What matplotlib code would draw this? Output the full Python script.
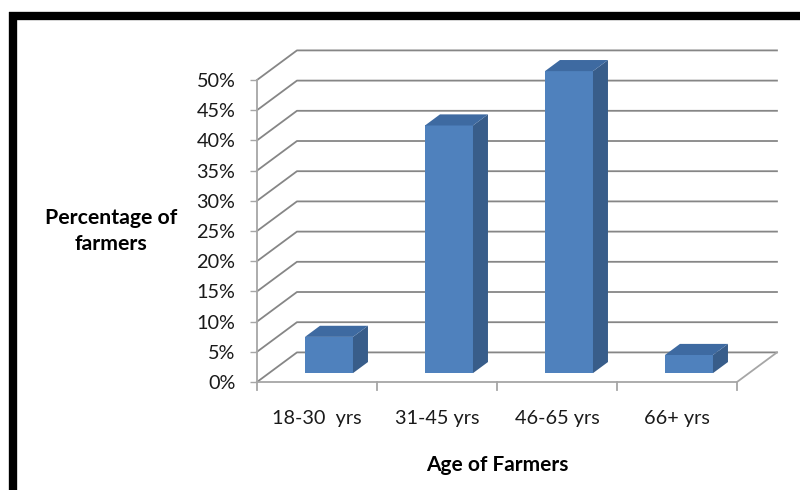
import matplotlib.pyplot as plt
from matplotlib.lines import Line2D

categories = ["18-30  yrs", "31-45 yrs", "46-65 yrs", "66+ yrs"]
values = [6, 41, 50, 3]
y_ticks = [0, 5, 10, 15, 20, 25, 30, 35, 40, 45, 50]
y_labels = [f"{v}%" for v in y_ticks]

# oblique depth of the plot box (category units, percent units)
DX = 0.333
DY = 4.9
GRID = "#868686"
AXIS = "#a6a6a6"
FRONT = "#4f81bd"
SIDE = "#385d8a"
TOP = "#3e6aa1"

plt.rcParams["font.family"] = ["Lato", "DejaVu Sans"]

fig = plt.figure(figsize=(8, 4.9), dpi=100)
ax = fig.add_axes([257 / 800, 108 / 490, 480 / 800, 302 / 490])
n = len(categories)
ax.set_xlim(0, n)
ax.set_ylim(0, 50)
for s in ax.spines.values():
    s.set_visible(False)

# back wall gridlines + side wall diagonals
for v in y_ticks:
    ax.plot([0, DX, n + DX], [v, v + DY, v + DY], color=GRID, lw=1.3, clip_on=False, zorder=1)

# floor and front axis
ax.plot([0, n, n + DX], [0, 0, DY], color=AXIS, lw=1.3, clip_on=False, zorder=1)
ax.plot([0, 0], [0, 50], color=AXIS, lw=1.3, clip_on=False, zorder=1)
for i in range(n + 1):
    ax.plot([i, i], [0, -1.4], color=AXIS, lw=1.3, clip_on=False, zorder=1)

# 3d bars
w = 0.4
f0 = 0.3
depth = 0.375
for i, v in enumerate(values):
    x0 = i + 0.5 - w / 2 + f0 * DX
    x1 = x0 + w
    y0 = f0 * DY
    y1 = y0 + v
    ddx = depth * DX
    ddy = depth * DY
    ax.fill([x0, x1, x1, x0], [y0, y0, y1, y1], color=FRONT, lw=0, clip_on=False, zorder=3)
    ax.fill([x1, x1 + ddx, x1 + ddx, x1], [y0, y0 + ddy, y1 + ddy, y1], color=SIDE, lw=0,
            clip_on=False, zorder=3)
    ax.fill([x0, x1, x1 + ddx, x0 + ddx], [y1, y1, y1 + ddy, y1 + ddy], color=TOP, lw=0,
            clip_on=False, zorder=3)

ax.set_yticks(y_ticks)
ax.set_yticklabels(y_labels, fontsize=14.3, color="#1a1a1a")
ax.tick_params(axis="y", length=5, width=1, color=AXIS, pad=10.5)
ax.set_xticks([i + 0.5 for i in range(n)])
ax.set_xticklabels(categories, fontsize=14.3, color="#1a1a1a")
ax.tick_params(axis="x", length=0, pad=20.5)

ax.set_xlabel("Age of Farmers", fontsize=15, weight="bold", labelpad=20)
fig.text(111 / 800, 1 - 231 / 490, "Percentage of\nfarmers", fontsize=15.3, weight="bold",
         ha="center", va="center", linespacing=1.35)

# black frame of the picture
fig.add_artist(Line2D([9 / 800, 1], [1 - 16 / 490, 1 - 16 / 490], color="black", lw=6,
                      transform=fig.transFigure, solid_capstyle="butt"))
fig.add_artist(Line2D([13 / 800, 13 / 800], [0, 1 - 12 / 490], color="black", lw=6,
                      transform=fig.transFigure, solid_capstyle="butt"))

fig.savefig("out.png", dpi=100)
